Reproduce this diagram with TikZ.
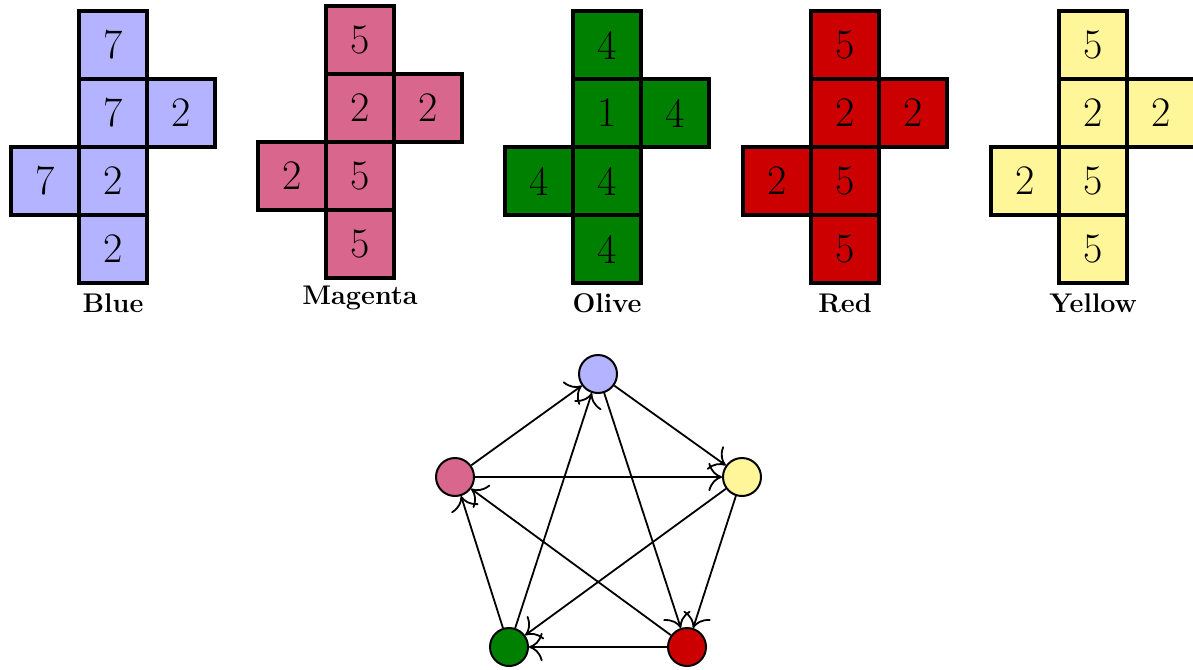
\documentclass[tikz,border=0pt]{standalone}
\usetikzlibrary{arrows.meta}
\definecolor{cblue}{RGB}{179,179,255}
\definecolor{cmagenta}{RGB}{217,102,140}
\definecolor{colive}{RGB}{0,128,0}
\definecolor{cred}{RGB}{204,0,0}
\definecolor{cyellow}{RGB}{255,246,153}
\tikzset{
  face/.style={draw=black, line width=2pt, fill=#1, minimum size=34pt,
    inner sep=0pt, font=\fontsize{21}{24}\selectfont},
  netlabel/.style={font=\fontsize{13.5}{16}\selectfont\bfseries},
  vertex/.style={circle, draw=black, line width=1pt, fill=#1,
    minimum size=19pt, inner sep=0pt},
  link/.style={-{To[scale=1.9]}, line width=0.9pt}
}
\begin{document}
\begin{tikzpicture}[x=0.5pt, y=-0.5pt]
\useasboundingbox (0,0) rectangle (1193,669);

% ---- Blue net ----
\begin{scope}[shift={(113,45)}]
  \node[face=cblue] (b1) at (0,0) {7};
  \node[face=cblue] (b2) at (0,68) {7};
  \node[face=cblue] (b3) at (68,68) {2};
  \node[face=cblue] (b4) at (-68,136) {7};
  \node[face=cblue] (b5) at (0,136) {2};
  \node[face=cblue] (b6) at (0,204) {2};
  \node[netlabel] (bl) at (0,258) {Blue};
\end{scope}

% ---- Magenta net ----
\begin{scope}[shift={(360,40)}]
  \node[face=cmagenta] (m1) at (0,0) {5};
  \node[face=cmagenta] (m2) at (0,68) {2};
  \node[face=cmagenta] (m3) at (68,68) {2};
  \node[face=cmagenta] (m4) at (-68,136) {2};
  \node[face=cmagenta] (m5) at (0,136) {5};
  \node[face=cmagenta] (m6) at (0,204) {5};
  \node[netlabel] (ml) at (0,258) {Magenta};
\end{scope}

% ---- Olive net ----
\begin{scope}[shift={(607,45)}]
  \node[face=colive] (o1) at (0,0) {4};
  \node[face=colive] (o2) at (0,68) {1};
  \node[face=colive] (o3) at (68,68) {4};
  \node[face=colive] (o4) at (-68,136) {4};
  \node[face=colive] (o5) at (0,136) {4};
  \node[face=colive] (o6) at (0,204) {4};
  \node[netlabel] (ol) at (0,258) {Olive};
\end{scope}

% ---- Red net ----
\begin{scope}[shift={(845,45)}]
  \node[face=cred] (r1) at (0,0) {5};
  \node[face=cred] (r2) at (0,68) {2};
  \node[face=cred] (r3) at (68,68) {2};
  \node[face=cred] (r4) at (-68,136) {2};
  \node[face=cred] (r5) at (0,136) {5};
  \node[face=cred] (r6) at (0,204) {5};
  \node[netlabel] (rl) at (0,258) {Red};
\end{scope}

% ---- Yellow net ----
\begin{scope}[shift={(1093,45)}]
  \node[face=cyellow] (y1) at (0,0) {5};
  \node[face=cyellow] (y2) at (0,68) {2};
  \node[face=cyellow] (y3) at (68,68) {2};
  \node[face=cyellow] (y4) at (-68,136) {2};
  \node[face=cyellow] (y5) at (0,136) {5};
  \node[face=cyellow] (y6) at (0,204) {5};
  \node[netlabel] (yl) at (0,258) {Yellow};
\end{scope}

% ---- dominance graph ----
\node[vertex=cblue]    (B) at (598,374) {};
\node[vertex=cmagenta] (M) at (455,477) {};
\node[vertex=cyellow]  (Y) at (742,477) {};
\node[vertex=colive]   (O) at (509,647) {};
\node[vertex=cred]     (R) at (687,647) {};

\draw[link] (M) -- (B);
\draw[link] (O) -- (B);
\draw[link] (B) -- (Y);
\draw[link] (B) -- (R);
\draw[link] (M) -- (Y);
\draw[link] (Y) -- (O);
\draw[link] (Y) -- (R);
\draw[link] (R) -- (M);
\draw[link] (O) -- (M);
\draw[link] (R) -- (O);
\end{tikzpicture}
\end{document}
